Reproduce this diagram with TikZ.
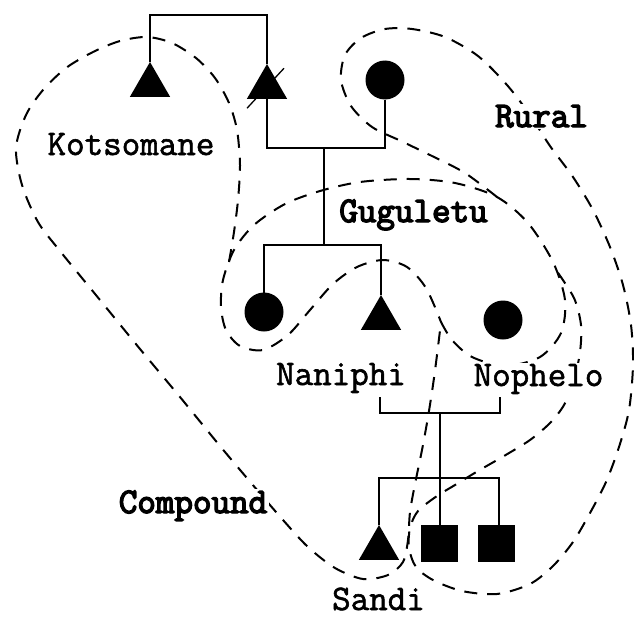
\documentclass[tikz,border=0pt]{standalone}
\usepackage{fontspec}
\usetikzlibrary{shapes.geometric}
\newfontfamily\namefont[FakeBold=1.6]{Latin Modern Mono}
\newfontfamily\placefont[FakeBold=4]{Latin Modern Mono}

\begin{document}
\begin{tikzpicture}[x=1pt,y=-1pt,
  kin/.style={line width=2pt},
  area/.style={line width=2pt, dash pattern=on 13pt off 10pt},
  male/.style={regular polygon, regular polygon sides=3, minimum size=46.5pt,
    inner sep=0pt, outer sep=0pt, fill=black},
  female/.style={circle, minimum size=39pt, inner sep=0pt, outer sep=0pt, fill=black},
  unsexed/.style={rectangle, minimum size=37pt, inner sep=0pt, outer sep=0pt, fill=black},
  personlabel/.style={font=\namefont\fontsize{36}{38}\selectfont, anchor=base,
    inner sep=1.5pt, fill=white},
  placelabel/.style={font=\placefont\fontsize{36}{38}\selectfont, anchor=base,
    inner sep=1.5pt, fill=white},
]
% page
\fill[white] (0,0) rectangle (634,618);
\useasboundingbox (0,0) rectangle (634,618);

% ---- residence boundaries ----
% Guguletu
\draw[area] plot[smooth] coordinates {(441,322) (452,340) (472,357) (505,366)
  (540,357) (561,333) (565,300) (553,262) (528,223) (497,197) (455,183)
  (410,179) (360,182) (320,191) (285,204) (254,225) (234,250) (223,280)
  (221,307) (226,330) (240,346) (263,350) (288,335) (310,310) (333,284)
  (357,267) (383,260) (407,267) (426,288) (441,322)};
% Kotsomane and the compound
\draw[area] plot[smooth] coordinates {(229,262) (234,232) (238,200) (240,165)
  (237,130) (229,103) (215,78) (196,58) (172,43) (147,37) (120,41) (93,52)
  (66,68) (43,90) (26,115) (16,148) (22,185) (38,222) (60,251) (100,300)
  (140,349) (180,397) (220,446) (252,484) (283,520) (308,547) (335,568)
  (363,579) (388,575) (403,562) (408,540) (410,512) (415,484) (422,450)
  (428,417) (433,385) (437,355) (441,322)};
% rural home
\draw[area] plot[smooth] coordinates {(497,197) (465,173) (432,156) (401,141)
  (372,127) (351,106) (341,80) (345,55) (361,38) (385,29) (412,29) (445,37)
  (478,56) (507,85) (530,115) (550,146) (573,177) (593,210) (610,247)
  (623,285) (631,325) (633,365) (629,410) (619,447) (606,482) (590,513)
  (573,542) (553,566) (530,584) (497,594) (462,591) (433,580) (416,567)
  (409,548) (410,528) (418,511) (437,496) (455,485) (478,471) (504,456)
  (530,440) (550,423) (564,405) (574,380) (580,352) (581,325) (574,298)
  (556,270)};

% ---- labels ----
\node[personlabel] (kots) at (131,155)   {Kotsomane};
\node[placelabel]  (rur)  at (541.5,127) {Rural};
\node[placelabel]  (gug)  at (413.5,222) {Guguletu};
\node[personlabel] (nan)  at (341,385)   {Naniphi};
\node[personlabel] (nop)  at (538.5,386) {Nophelo};
\node[placelabel]  (comp) at (193,513)   {Compound};
\node[personlabel, fill=none, inner sep=0pt] (san) at (378.5,610) {Sandi};

% ---- individuals ----
\node[male, anchor=north] (k1) at (150,62) {};
\node[male, anchor=north] (k2) at (267,64) {};
\node[female] (g0) at (385,80) {};
\node[female] (g1) at (264,312) {};
\node[male, anchor=north] (n1) at (381,295) {};
\node[female] (g2) at (503,320) {};
\node[male, anchor=north] (s0) at (379,525) {};
\node[unsexed] (q1) at (439.5,543.5) {};
\node[unsexed] (q2) at (496.5,543.5) {};

% deceased mark
\draw[line width=1.3pt] ([shift={(-20,21)}]k2.center) -- ([shift={(17,-19)}]k2.center);

% ---- kinship lines ----
\coordinate (sibA) at (209,15);
\coordinate (marA) at (324,148);
\coordinate (sibB) at (324,245);
\coordinate (husb) at (380,397);
\coordinate (wife) at (500,397);
\coordinate (marB) at (439.5,413);
\coordinate (sibC) at (439.5,478);

\draw[kin] (k1.north) |- (sibA) -| (k2.north);
\draw[kin] (k2.south) |- (marA) -| (g0.south);
\draw[kin] (marA) -- (sibB);
\draw[kin] (g1.north) |- (sibB) -| (n1.north);
\draw[kin] (husb) |- (marB) -| (wife);
\draw[kin] (marB) -- (sibC);
\draw[kin] (s0.north) |- (sibC) -| ([xshift=2pt]q2.north);
\draw[kin] (sibC) -- (q1.north);
\end{tikzpicture}
\end{document}
